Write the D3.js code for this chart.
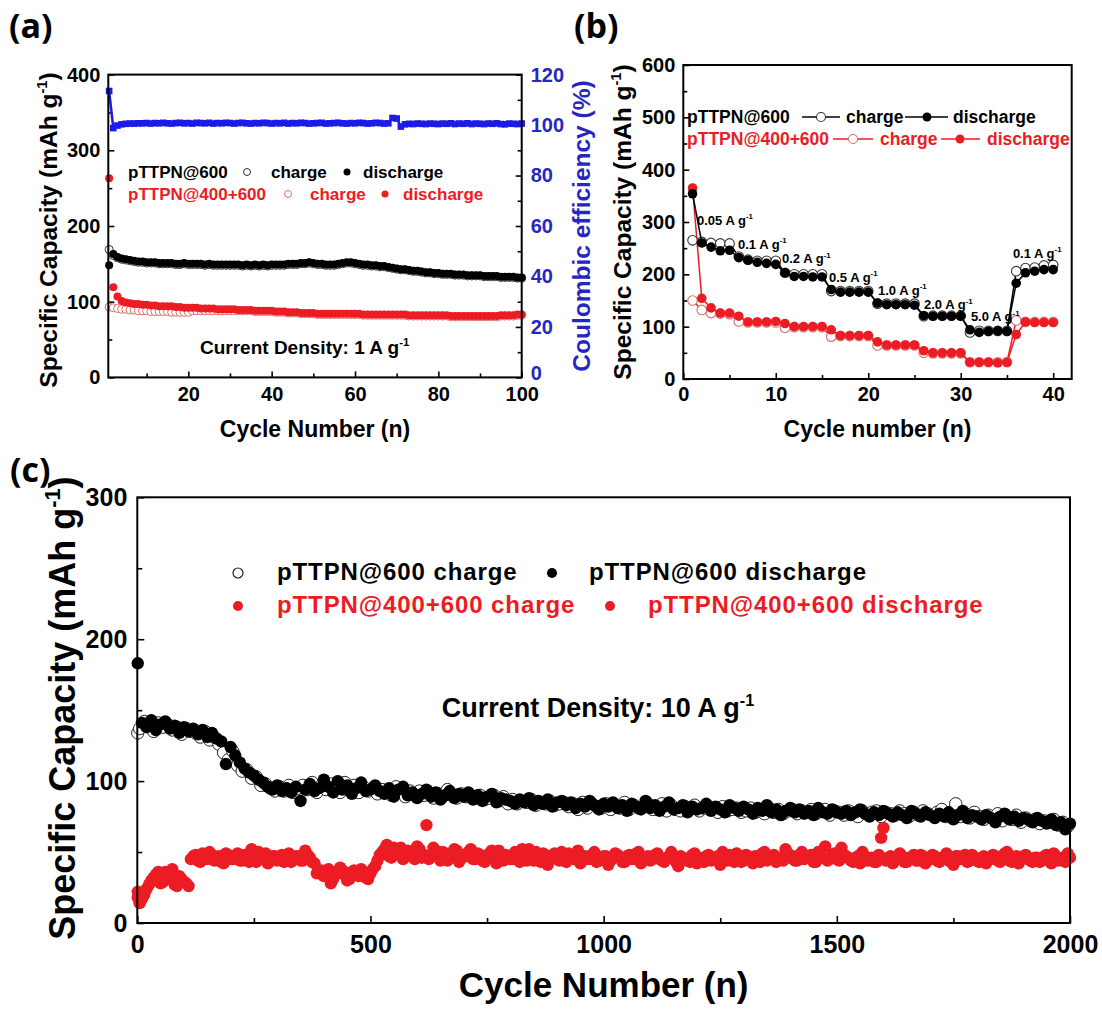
<!DOCTYPE html>
<html><head><meta charset="utf-8">
<script src="https://cdn.jsdelivr.net/npm/d3@7"></script>
<style>
body{margin:0;background:#fff}
svg{display:block}
text{font-family:"Liberation Sans",Arial,sans-serif;font-weight:bold}
</style>
</head><body>
<svg id="fig" width="1102" height="1012"></svg>
<script>
// ---------- (a) cycling at 1 A/g, cycles 1..100 ----------
const cyclesA = d3.range(1, 101);
const a600Dis = [148,163,159,157,156,155,154,153,153,152,
152,152,151,151,151,151,150,150,151,150,
150,150,150,149,150,149,149,149,149,149,
149,149,148,149,148,149,148,149,148,149,
149,149,149,150,150,150,151,151,152,151,
150,150,149,149,149,150,151,152,152,151,
150,149,149,148,148,147,147,146,145,144,
143,143,142,141,141,140,139,139,138,138,
137,137,137,136,136,136,135,135,135,135,
134,134,134,134,133,133,133,133,132,132];
const a600Chg = [169,161,158,156,155,154,153,152,152,151,
151,151,150,150,150,150,149,149,150,149,
149,149,149,148,149,148,148,148,148,148,
148,148,147,148,147,148,147,148,147,148,
148,148,148,149,149,149,150,150,151,150,
149,149,148,148,148,149,150,151,151,150,
149,148,148,147,147,146,146,145,144,143,
142,142,141,140,140,139,138,138,137,137,
136,136,136,135,135,135,134,134,134,134,
133,133,133,133,132,132,132,132,131,131];
const a400Dis = [263,119,107,101,99,98,97,97,96,96,
95,95,94,94,94,94,93,93,92,92,
92,92,91,91,91,91,90,90,90,90,
90,89,89,89,89,88,88,88,88,88,
87,87,87,86,86,86,85,85,85,85,
84,84,84,84,84,84,84,84,84,84,
84,83,83,83,83,83,83,83,83,83,
83,83,82,82,82,82,82,82,82,82,
82,82,81,81,81,81,81,81,81,81,
81,81,81,81,82,82,82,82,83,83];
const a400Chg = [93,92,91,90,90,89,89,88,88,88,
87,87,87,87,87,86,86,86,86,86,
88,88,88,88,88,88,88,88,88,88,
88,88,88,88,88,87,87,87,87,87,
86,86,86,85,85,85,84,84,84,84,
83,83,83,83,83,83,83,83,83,83,
83,82,82,82,82,82,82,82,82,82,
82,82,81,81,81,81,81,81,81,81,
81,81,80,80,80,80,80,80,80,80,
80,80,80,80,81,81,81,81,82,82];
const aCE = [113.5,98.8,99.8,100.3,100.5,100.6,100.6,100.7,100.7,100.8,
100.6,100.8,100.7,100.9,100.7,100.6,100.8,100.9,100.7,100.8,
100.6,100.9,100.8,100.7,100.9,100.6,100.8,100.7,100.9,100.8,
100.6,100.8,100.9,100.7,100.6,100.8,100.7,100.9,100.8,100.6,
100.8,100.7,100.9,100.6,100.8,100.7,100.9,100.8,100.6,100.7,
100.8,100.9,100.6,100.7,100.8,100.9,100.7,100.6,100.8,100.7,
100.9,100.8,100.6,100.7,100.9,100.8,100.6,100.7,102.8,102.6,
99.4,100.3,100.5,100.4,100.6,100.5,100.4,100.6,100.5,100.4,
100.6,100.5,100.7,100.4,100.6,100.5,100.7,100.4,100.6,100.5,
100.4,100.6,100.5,100.7,100.4,100.3,100.6,100.5,100.4,100.6];
const aTicksX = [20, 40, 60, 80, 100];
const aTicksY = [0, 100, 200, 300, 400];
const aTicksCE = [0, 20, 40, 60, 80, 100, 120];

// ---------- (b) rate capability, cycles 1..40 ----------
const cyclesB = d3.range(1, 41);
const b600Dis = [354,260,252,245,246,232,227,223,221,219,203,196,196,195,195,171,166,166,166,166,145,142,142,142,141,121,120,120,120,120,94,89,91,92,91,183,203,206,209,209];
const b600Chg = [265,262,260,259,259,234,228,226,226,226,203,200,200,200,200,168,168,168,168,168,144,144,144,144,144,120,121,121,121,121,89,92,92,92,92,206,212,213,217,218];
const b400Dis = [365,154,136,126,126,120,109,109,109,110,106,100,100,100,100,94,83,83,83,83,71,65,65,65,65,54,50,50,50,50,32,32,32,31,32,85,109,108,108,108];
const b400Chg = [150,132,126,125,124,110,108,108,108,108,98,99,99,99,99,81,82,82,82,82,64,64,64,64,64,50,49,49,49,49,32,32,32,32,32,112,109,109,109,109];
const bRates = ["0.05","0.1","0.2","0.5","1.0","2.0","5.0","0.1"];
// label anchor: [cycle, capacity] of the text start/baseline
const bRateAt = [[1.48,295],[5.91,249],[10.67,221],[15.75,186],[21.05,161],[26.03,133],[31.1,110],[35.64,232]];
const bTicksX = [0, 10, 20, 30, 40];
const bTicksY = [0, 100, 200, 300, 400, 500, 600];

// ---------- (c) long cycling at 10 A/g ----------
const cyclesCDis = [1].concat(d3.range(10, 2001, 10));
const cyclesCChg = [1].concat(d3.range(5, 2000, 10));
const c600Dis = [183,
141,138,143,136,140,142,137,139,134,138,
135,137,133,136,131,134,130,128,112,124,
118,113,109,106,104,101,99,96,94,97,
93,95,92,96,86,94,98,93,95,101,
96,92,100,94,97,91,95,99,93,94,
97,93,91,95,89,94,96,90,92,88,
91,94,89,92,87,90,93,88,91,89,
92,87,90,86,89,91,85,88,87,86,
84,87,85,88,83,86,84,87,82,85,
86,83,85,81,84,82,86,83,80,84,
82,85,81,83,79,84,82,80,86,81,
83,79,82,85,80,81,83,78,82,80,
81,84,79,82,80,78,83,81,79,82,
80,77,81,79,83,78,80,76,79,81,
78,80,77,79,76,81,78,77,80,78,
77,79,76,78,80,77,75,78,76,79,
77,75,78,76,74,79,77,75,78,76,
74,77,75,78,73,76,79,74,76,75,
73,76,74,71,75,77,73,75,72,74,
73,71,74,72,70,73,69,71,66,70];
const c600Chg = [134,
137,142,139,135,141,138,140,136,138,133,
137,135,134,131,135,129,131,126,120,115,
121,111,107,108,102,103,97,98,95,93,
96,93,97,92,95,97,94,99,92,97,
94,98,95,92,99,94,97,92,96,93,
95,91,94,92,90,96,92,89,93,90,
93,90,92,88,91,89,94,90,88,91,
89,90,88,90,87,88,90,86,89,84,
87,84,86,85,87,83,85,84,86,83,
84,85,82,84,80,85,81,84,82,81,
84,80,83,81,85,80,83,81,82,84,
80,82,84,79,83,80,79,82,80,83,
79,81,82,80,78,82,79,80,81,78,
79,81,78,80,77,81,78,80,77,79,
80,77,79,78,80,77,79,80,76,79,
78,76,79,77,75,79,77,78,79,75,
78,77,76,79,77,75,78,76,79,77,
76,78,80,75,78,84,75,77,74,78,
75,73,76,74,77,72,75,73,76,71,
74,72,73,70,72,71,73,69,71,68];
const c400Dis = [18,
17,24,30,34,28,36,31,27,33,29,
26,47,44,49,45,48,46,43,49,45,
47,44,48,43,46,50,45,42,47,44,
48,45,43,47,44,51,46,42,36,33,
38,31,35,37,30,36,34,38,32,35,
40,48,52,47,53,49,45,51,48,54,
46,69,47,51,44,49,46,52,43,48,
50,45,49,44,47,51,42,46,48,45,
50,43,47,52,44,46,49,41,47,45,
50,43,46,48,42,47,45,50,44,47,
41,46,48,43,47,45,49,42,46,44,
48,45,43,47,45,40,46,44,48,42,
45,47,44,46,41,45,48,43,46,44,
47,42,46,49,44,47,43,45,52,46,
44,48,45,47,43,50,46,44,48,45,
53,47,44,46,42,47,45,43,48,67,
46,42,45,47,43,46,44,48,42,45,
47,43,46,44,41,47,45,43,48,44,
46,42,45,47,43,49,44,46,42,47,
45,43,46,44,48,42,47,45,43,46];
const c400Chg = [22,
14,20,27,32,36,29,33,38,26,31,
28,45,48,43,47,50,44,47,42,48,
45,49,44,47,52,43,46,49,44,47,
46,43,49,45,47,44,48,43,35,37,
33,28,36,39,34,31,37,33,36,31,
38,44,50,55,46,51,53,47,50,45,
52,48,45,53,47,50,44,48,51,46,
47,52,45,48,43,49,46,51,44,47,
45,48,52,44,47,50,43,48,46,49,
44,47,49,45,51,44,46,48,43,46,
47,44,49,46,43,48,45,50,44,47,
45,49,44,46,50,43,47,45,43,49,
46,43,48,45,47,50,44,46,49,43,
48,45,47,43,50,45,48,46,44,49,
47,44,50,46,48,43,47,54,45,49,
44,48,46,43,47,50,44,46,43,60,
44,47,45,49,43,46,48,44,47,45,
48,44,46,49,43,47,45,48,44,46,
43,47,45,48,44,46,50,43,47,45,
48,44,46,43,47,45,49,44,46,49];
const cTicksX = [0, 500, 1000, 1500, 2000];
const cTicksY = [0, 100, 200, 300];

// ---------- drawing ----------
const svg = d3.select("#fig");
const RED = "#ec1c24", BLUE = "#1c1ce6", BLUE_TXT = "#2626c2";

// text with optional superscript pieces: parts = ["text", ["-1"], "text"]
function richText(parent, x, y, parts, size, opts = {}) {
  const t = parent.append("text").attr("x", x).attr("y", y)
    .attr("font-size", size).attr("fill", opts.fill || "#000")
    .attr("text-anchor", opts.anchor || "start");
  if (opts.rotate) t.attr("transform", `rotate(-90,${x},${y})`);
  if (opts.spacing) t.attr("letter-spacing", opts.spacing);
  const up = size * 0.42;
  let raised = false;
  parts.forEach(p => {
    const sp = t.append("tspan");
    if (Array.isArray(p)) {
      sp.text(p[0]).attr("font-size", size * 0.6).attr("dy", -up);
      raised = true;
    } else {
      sp.text(p);
      if (raised) { sp.attr("dy", up); raised = false; }
    }
  });
  return t;
}

function addAxis(g, gen, tx, ty, fontSize, color) {
  const a = g.append("g").attr("transform", `translate(${tx},${ty})`).call(gen);
  a.attr("font-family", null).attr("font-size", null);
  a.select(".domain").remove();
  a.selectAll(".tick line").attr("stroke", "#000").attr("stroke-width", 1.6);
  a.selectAll(".tick text").attr("font-size", fontSize).attr("fill", color || "#000");
  return a;
}

function frame(g, x0, y0, x1, y1) {
  g.append("rect").attr("x", x0).attr("y", y0).attr("width", x1 - x0).attr("height", y1 - y0)
    .attr("fill", "none").attr("stroke", "#000").attr("stroke-width", 2);
}

function dots(g, xs, ys, x, y, r, fill, stroke, sw) {
  g.append("g").selectAll("circle").data(ys).join("circle")
    .attr("cx", (d, i) => x(xs[i])).attr("cy", d => y(d)).attr("r", r)
    .attr("fill", fill).attr("stroke", stroke || "none").attr("stroke-width", sw || 0);
}

// ================= panel (a) =================
{
  const g = svg.append("g");
  const L = 108.3, R = 521.7, T = 74.6, B = 377.4;
  const x = d3.scaleLinear().domain([0.8, 100]).range([L, R]);
  const y = d3.scaleLinear().domain([0, 400]).range([B, T]);
  const yr = d3.scaleLinear().domain([0, 120]).range([B, T]);

  addAxis(g, d3.axisBottom(x).tickValues(aTicksX).tickSize(-6).tickPadding(9).tickFormat(d3.format("d")), 0, B, 20);
  addAxis(g, d3.axisBottom(x).tickValues([10,30,50,70,90]).tickSize(-4).tickFormat(""), 0, B, 20);
  addAxis(g, d3.axisLeft(y).tickValues(aTicksY).tickSize(-6).tickPadding(8), L, 0, 20);
  addAxis(g, d3.axisLeft(y).tickValues([50,150,250,350]).tickSize(-4).tickFormat(""), L, 0, 20);
  const ceAxis = addAxis(g, d3.axisRight(yr).tickValues(aTicksCE).tickSize(-6).tickPadding(9), R, 0, 20, BLUE_TXT);
  ceAxis.selectAll(".tick text").filter(d => d === 0).attr("dy", "0.1em");
  addAxis(g, d3.axisRight(yr).tickValues([10,30,50,70,90,110]).tickSize(-4).tickFormat(""), R, 0, 20);

  dots(g, cyclesA, a600Chg, x, y, 4, "#fff", "#333", 1);
  dots(g, cyclesA, a400Chg, x, y, 4, "#fff", "#d9706c", 1);
  dots(g, cyclesA, a600Dis, x, y, 4, "#000");
  dots(g, cyclesA, a400Dis, x, y, 4, RED);

  g.append("path").datum(aCE)
    .attr("d", d3.line().x((d, i) => x(cyclesA[i])).y(d => yr(d)))
    .attr("fill", "none").attr("stroke", BLUE).attr("stroke-width", 2.5);
  g.append("g").selectAll("rect").data(aCE).join("rect")
    .attr("x", (d, i) => x(cyclesA[i]) - 3.3).attr("y", d => yr(d) - 3.3)
    .attr("width", 6.6).attr("height", 6.6).attr("fill", BLUE);

  frame(g, L, T, R, B);

  // legend
  richText(g, 128, 178, ["pTTPN@600"], 17);
  g.append("circle").attr("cx", 247).attr("cy", 172).attr("r", 3.5).attr("fill", "#fff").attr("stroke", "#333").attr("stroke-width", 1);
  richText(g, 271, 178, ["charge"], 17);
  g.append("circle").attr("cx", 347).attr("cy", 172).attr("r", 3.5).attr("fill", "#000");
  richText(g, 363, 178, ["discharge"], 17);
  richText(g, 128, 200, ["pTTPN@400+600"], 17, {fill: RED});
  g.append("circle").attr("cx", 288).attr("cy", 194).attr("r", 3.5).attr("fill", "#fff").attr("stroke", "#d9706c").attr("stroke-width", 1);
  richText(g, 310, 200, ["charge"], 17, {fill: RED});
  g.append("circle").attr("cx", 385).attr("cy", 194).attr("r", 3.5).attr("fill", RED);
  richText(g, 403, 200, ["discharge"], 17, {fill: RED});

  richText(g, 200, 354, ["Current Density: 1 A g", ["-1"]], 19);

  richText(g, (L + R) / 2, 437, ["Cycle Number (n)"], 23, {anchor: "middle"});
  richText(g, 57, (T + B) / 2 + 4, ["Specific Capacity (mAh g", ["-1"], ")"], 24.5, {anchor: "middle", rotate: true});
  richText(g, 590, (T + B) / 2, ["Coulombic efficiency (%)"], 24.5, {anchor: "middle", rotate: true, fill: BLUE_TXT});
  svg.append("text").attr("x", 9).attr("y", 38).attr("font-size", 34)
    .style("font-family", "'Open Sans',sans-serif").text("(a)");
}

// ================= panel (b) =================
{
  const g = svg.append("g");
  const L = 683.3, R = 1071.7, T = 65, B = 379;
  const x = d3.scaleLinear().domain([0, 42]).range([L, R]);
  const y = d3.scaleLinear().domain([0, 600]).range([B, T]);

  addAxis(g, d3.axisBottom(x).tickValues(bTicksX).tickSize(-6).tickPadding(8), 0, B, 20);
  addAxis(g, d3.axisBottom(x).tickValues([5,15,25,35]).tickSize(-4).tickFormat(""), 0, B, 20);
  addAxis(g, d3.axisLeft(y).tickValues(bTicksY).tickSize(-6).tickPadding(8), L, 0, 20);
  addAxis(g, d3.axisLeft(y).tickValues([50,150,250,350,450,550]).tickSize(-4).tickFormat(""), L, 0, 20);

  const line = d3.line().x((d, i) => x(cyclesB[i])).y(d => y(d));
  const series = [[b400Chg, RED, true], [b400Dis, RED, false], [b600Chg, "#000", true], [b600Dis, "#000", false]];
  series.forEach(([vals, col, open]) => {
    g.append("path").datum(vals).attr("d", line).attr("fill", "none").attr("stroke", col).attr("stroke-width", 1.5);
    if (open) dots(g, cyclesB, vals, x, y, 4.8, "#fff", col === RED ? "#d9706c" : "#333", 1.1);
    else dots(g, cyclesB, vals, x, y, 4.8, col);
  });

  frame(g, L, T, R, B);

  bRates.forEach((r, i) => {
    richText(g, x(bRateAt[i][0]), y(bRateAt[i][1]), [r + " A g", ["-1"]], 13);
  });

  // legend
  richText(g, 687, 123, ["pTTPN@600"], 17.5);
  g.append("line").attr("x1", 802).attr("x2", 840).attr("y1", 117).attr("y2", 117).attr("stroke", "#000").attr("stroke-width", 1.5);
  g.append("circle").attr("cx", 821).attr("cy", 117).attr("r", 4.5).attr("fill", "#fff").attr("stroke", "#333").attr("stroke-width", 1.1);
  richText(g, 846, 123, ["charge"], 17.5);
  g.append("line").attr("x1", 905).attr("x2", 948).attr("y1", 117).attr("y2", 117).attr("stroke", "#000").attr("stroke-width", 1.5);
  g.append("circle").attr("cx", 927).attr("cy", 117).attr("r", 4.5).attr("fill", "#000");
  richText(g, 953, 123, ["discharge"], 17.5);
  richText(g, 687, 145, ["pTTPN@400+600"], 17.5, {fill: RED});
  g.append("line").attr("x1", 833).attr("x2", 873).attr("y1", 139).attr("y2", 139).attr("stroke", RED).attr("stroke-width", 1.5);
  g.append("circle").attr("cx", 853).attr("cy", 139).attr("r", 4.5).attr("fill", "#fff").attr("stroke", "#d9706c").attr("stroke-width", 1.1);
  richText(g, 880, 145, ["charge"], 17.5, {fill: RED});
  g.append("line").attr("x1", 941).attr("x2", 980).attr("y1", 139).attr("y2", 139).attr("stroke", RED).attr("stroke-width", 1.5);
  g.append("circle").attr("cx", 960).attr("cy", 139).attr("r", 4.5).attr("fill", RED);
  richText(g, 987, 145, ["discharge"], 17.5, {fill: RED});

  richText(g, (L + R) / 2, 437, ["Cycle number (n)"], 23, {anchor: "middle"});
  richText(g, 631, (T + B) / 2, ["Specific Capacity (mAh g", ["-1"], ")"], 24.5, {anchor: "middle", rotate: true});
  svg.append("text").attr("x", 574).attr("y", 38).attr("font-size", 34)
    .style("font-family", "'Open Sans',sans-serif").text("(b)");
}

// ================= panel (c) =================
{
  const g = svg.append("g");
  const L = 137.3, R = 1070, T = 497.3, B = 923;
  const x = d3.scaleLinear().domain([0, 2000]).range([L, R]);
  const y = d3.scaleLinear().domain([0, 300]).range([B, T]);

  addAxis(g, d3.axisBottom(x).tickValues(cTicksX).tickSize(-7).tickPadding(12).tickFormat(d3.format("d")), 0, B, 25);
  addAxis(g, d3.axisBottom(x).tickValues([250,750,1250,1750]).tickSize(-5).tickFormat(""), 0, B, 25);
  addAxis(g, d3.axisLeft(y).tickValues(cTicksY).tickSize(-7).tickPadding(10), L, 0, 25);
  addAxis(g, d3.axisLeft(y).tickValues([50,150,250]).tickSize(-5).tickFormat(""), L, 0, 25);

  dots(g, cyclesCChg, c600Chg, x, y, 6.2, "#fff", "#222", 1);
  dots(g, cyclesCDis, c600Dis, x, y, 6.2, "#000");
  dots(g, cyclesCChg, c400Chg, x, y, 6.2, RED);
  dots(g, cyclesCDis, c400Dis, x, y, 6.2, RED);

  frame(g, L, T, R, B);

  // legend
  g.append("circle").attr("cx", 238).attr("cy", 573).attr("r", 5).attr("fill", "#fff").attr("stroke", "#222").attr("stroke-width", 1.2);
  richText(g, 277, 580, ["pTTPN@600 charge"], 24, {spacing: 0.9});
  g.append("circle").attr("cx", 552).attr("cy", 573).attr("r", 5).attr("fill", "#000");
  richText(g, 589, 580, ["pTTPN@600 discharge"], 24, {spacing: 0.9});
  g.append("circle").attr("cx", 238).attr("cy", 606).attr("r", 5).attr("fill", RED);
  richText(g, 277, 613, ["pTTPN@400+600 charge"], 24, {fill: RED, spacing: 0.9});
  g.append("circle").attr("cx", 610).attr("cy", 606).attr("r", 5).attr("fill", RED);
  richText(g, 648, 613, ["pTTPN@400+600 discharge"], 24, {fill: RED, spacing: 0.9});

  richText(g, 441.7, 717, ["Current Density: 10 A g", ["-1"]], 27);

  richText(g, (L + R) / 2, 997, ["Cycle Number (n)"], 35, {anchor: "middle"});
  richText(g, 75, (T + B) / 2 - 2, ["Specific Capacity (mAh g", ["-1"], ")"], 36, {anchor: "middle", rotate: true});
  svg.append("text").attr("x", 10).attr("y", 482).attr("font-size", 34)
    .style("font-family", "'Open Sans',sans-serif").text("(c)");
}
</script>
</body></html>
